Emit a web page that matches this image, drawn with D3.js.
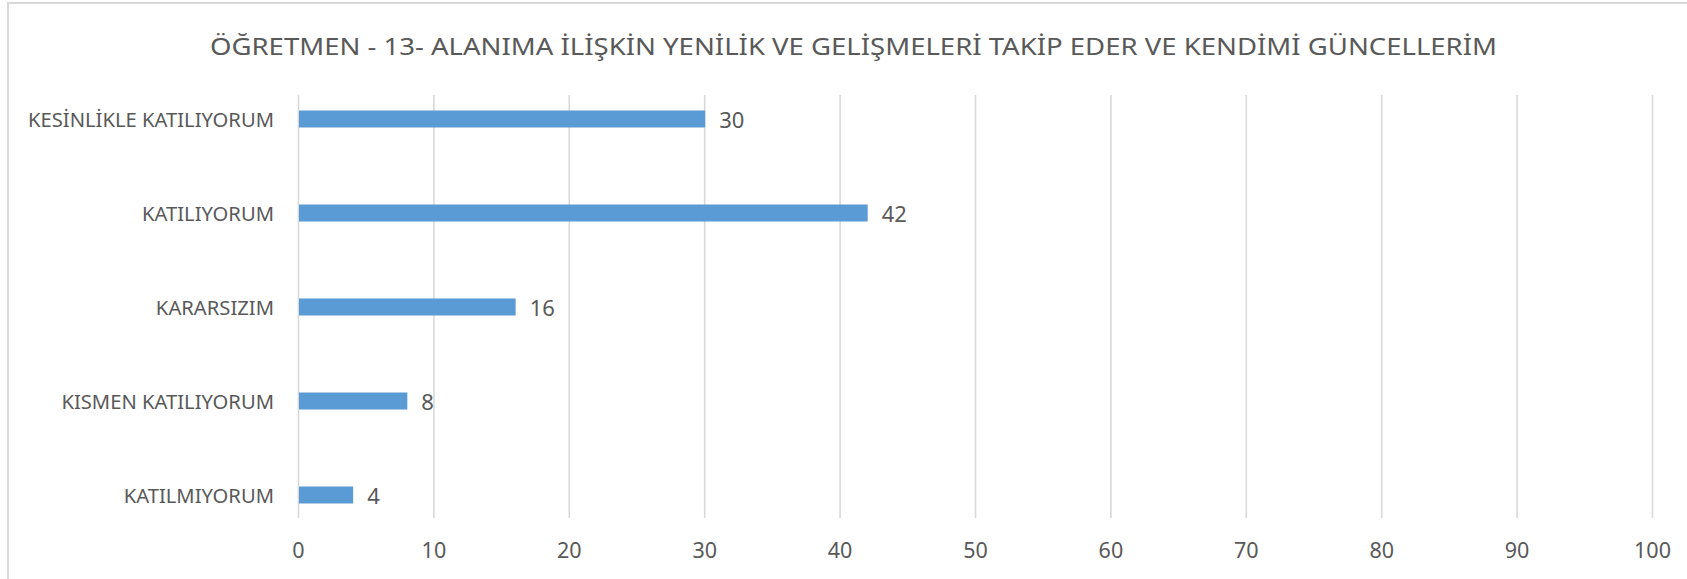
<!DOCTYPE html>
<html>
<head>
<meta charset="utf-8">
<script src="https://cdn.jsdelivr.net/npm/d3@7"></script>
<style>
  html, body { margin: 0; padding: 0; background: #ffffff; }
  svg { display: block; }
  text { font-family: "Noto Sans", "Open Sans", sans-serif; fill: #595959; }
</style>
</head>
<body>
<svg id="chart" width="1687" height="579"></svg>
<script>
const title = "ÖĞRETMEN - 13- ALANIMA İLİŞKİN YENİLİK VE GELİŞMELERİ TAKİP EDER VE KENDİMİ GÜNCELLERİM";
const categories = ["KESİNLİKLE KATILIYORUM", "KATILIYORUM", "KARARSIZIM", "KISMEN KATILIYORUM", "KATILMIYORUM"];
const values = [30, 42, 16, 8, 4];
const xTicks = [0, 10, 20, 30, 40, 50, 60, 70, 80, 90, 100];

const W = 1687, H = 579;
const svg = d3.select("#chart");

svg.append("rect").attr("x", 0).attr("y", 0).attr("width", W).attr("height", H).attr("fill", "#fff");
// outer chart border (cropped on right & bottom)
svg.append("rect").attr("x", 8).attr("y", 3).attr("width", W + 20).attr("height", H + 20)
  .attr("fill", "none").attr("stroke", "#d9d9d9").attr("stroke-width", 2);

const x = d3.scaleLinear().domain([0, 100]).range([298, 1652]);
const y = d3.scaleBand().domain(categories).range([72, 542]).paddingInner(0.819).paddingOuter(0.4095);
const gridTop = 95, gridBottom = 518;

// gridlines
const grid = svg.append("g").attr("transform", `translate(0,${gridBottom})`)
  .call(d3.axisBottom(x).tickValues(xTicks).tickSize(-(gridBottom - gridTop)).tickFormat(""));
grid.select(".domain").remove();
grid.selectAll(".tick line").attr("stroke", "#d9d9d9").attr("stroke-width", 1.6);

// x tick labels
const xa = svg.append("g").attr("transform", `translate(0,${gridBottom})`)
  .call(d3.axisBottom(x).tickValues(xTicks).tickSize(0).tickPadding(0));
xa.select(".domain").remove();
xa.selectAll(".tick text").attr("y", 40).attr("dy", null)
  .attr("font-size", 21.5).style("font-family", "'Noto Sans', sans-serif").attr("fill", "#595959");

// bars
svg.append("g").selectAll("rect").data(values).join("rect")
  .attr("x", x(0) + 1)
  .attr("y", (d, i) => y(categories[i]))
  .attr("width", d => x(d) - x(0))
  .attr("height", y.bandwidth())
  .attr("fill", "#5b9bd5");

// value labels
svg.append("g").selectAll("text").data(values).join("text")
  .attr("x", d => x(d) + 15)
  .attr("y", (d, i) => y(categories[i]) + y.bandwidth() / 2 + 8.5)
  .attr("font-size", 22)
  .text(d => d);

// category labels
const catG = svg.append("g");
const labels = catG.selectAll("text").data(categories).join("text")
  .attr("x", 274)
  .attr("y", d => y(d) + y.bandwidth() / 2 + 8)
  .attr("text-anchor", "end")
  .attr("font-size", 20)
  .text(d => d);
// condense to mimic the narrower original face
const natural0 = labels.nodes()[0].getComputedTextLength();
const k = 246 / natural0;
labels.each(function () {
  const w = this.getComputedTextLength();
  d3.select(this).attr("textLength", w * k).attr("lengthAdjust", "spacingAndGlyphs");
});

// title
svg.append("text")
  .attr("x", 853.5).attr("y", 55)
  .attr("text-anchor", "middle")
  .attr("font-size", 23.5)
  .attr("textLength", 1287).attr("lengthAdjust", "spacingAndGlyphs")
  .text(title);
</script>
</body>
</html>
